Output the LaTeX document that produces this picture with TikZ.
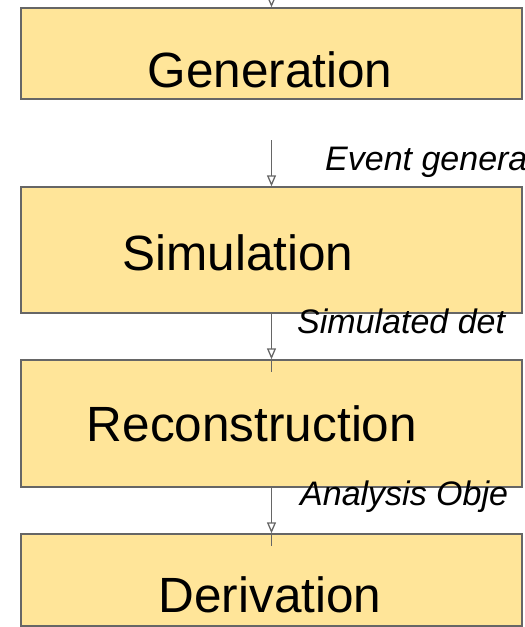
\documentclass[tikz,border=0pt]{standalone}
\usepackage{fontspec}
\setmainfont{Liberation Sans}
\usetikzlibrary{arrows.meta, positioning}

\definecolor{boxfill}{HTML}{FFE599}
\definecolor{edgegrey}{HTML}{666666}

\begin{document}
\begin{tikzpicture}[x=1pt, y=-1pt,
  stage/.style={draw=edgegrey, line width=1.4pt, fill=boxfill, minimum width=501pt, inner sep=0pt},
  stagetext/.style={anchor=base, inner sep=0pt, font=\fontsize{49.5}{55}\selectfont},
  flowtext/.style={anchor=base west, inner sep=0pt, font=\fontsize{34}{38}\selectfont\itshape},
  flow/.style={draw=edgegrey, line width=1.3pt, -{Triangle[open, width=9pt, length=11pt]}},
  plain/.style={draw=edgegrey, line width=1.3pt}]
\useasboundingbox (0,0) rectangle (525,627);

% the four processing stages
\node[stage, minimum height=91pt]  (gen) at (271.5,53.5) {};
\node[stage, minimum height=126pt] (sim) at (271.5,250) {};
\node[stage, minimum height=127pt] (rec) at (271.5,423.5) {};
\node[stage, minimum height=92pt]  (der) at (271.5,580) {};

\node[stagetext] (genlbl) at (270,87)  {Generation};
\node[stagetext] (simlbl) at (238,270) {Simulation};
\node[stagetext] (reclbl) at (252,441) {Reconstruction};
\node[stagetext] (derlbl) at (270,612) {Derivation};

% arrows between stages
\coordinate (intop) at (271.5,-2);
\coordinate (evtop) at (271.5,140);
\draw[flow] (intop) -- (gen.north);
\draw[flow] (evtop) -- (sim.north);
\draw[flow] (sim.south) -- (rec.north);
\draw[plain] (rec.north) -- ++(0,13);
\draw[flow] (rec.south) -- (der.north);
\draw[plain] (der.north) -- ++(0,13);

% data products
\node[flowtext] (evlbl)  at (325,170) {Event genera};
\node[flowtext] (detlbl) at (297,333) {Simulated det};
\node[flowtext] (aodlbl) at (300,505) {Analysis Obje};
\end{tikzpicture}
\end{document}
